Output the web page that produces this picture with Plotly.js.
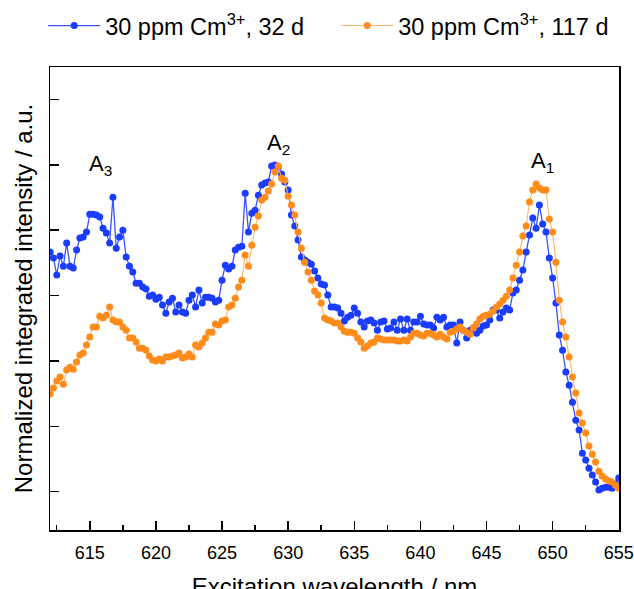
<!DOCTYPE html>
<html>
<head>
<meta charset="utf-8">
<script src="https://cdn.plot.ly/plotly-3.0.1.min.js"></script>
<style>html,body{margin:0;padding:0;background:#fff;overflow:hidden;}#chart{width:634px;height:600px;}</style>
</head>
<body>
<div id="chart"></div>
<script>
// Excitation wavelength (nm)
var wavelength = [
612,612.25,612.5,612.75,613,613.25,613.5,613.75,614,614.25,614.5,614.75,
615,615.25,615.5,615.75,616,616.25,616.5,616.75,617,617.25,617.5,617.75,
618,618.25,618.5,618.75,619,619.25,619.5,619.75,620,620.25,620.5,620.75,
621,621.25,621.5,621.75,622,622.25,622.5,622.75,623,623.25,623.5,623.75,
624,624.25,624.5,624.75,625,625.25,625.5,625.75,626,626.25,626.5,626.75,
627,627.25,627.5,627.75,628,628.25,628.5,628.75,629,629.25,629.5,629.75,
630,630.25,630.5,630.75,631,631.25,631.5,631.75,632,632.25,632.5,632.75,
633,633.25,633.5,633.75,634,634.25,634.5,634.75,635,635.25,635.5,635.75,
636,636.25,636.5,636.75,637,637.25,637.5,637.75,638,638.25,638.5,638.75,
639,639.25,639.5,639.75,640,640.25,640.5,640.75,641,641.25,641.5,641.75,
642,642.25,642.5,642.75,643,643.25,643.5,643.75,644,644.25,644.5,644.75,
645,645.25,645.5,645.75,646,646.25,646.5,646.75,647,647.25,647.5,647.75,
648,648.25,648.5,648.75,649,649.25,649.5,649.75,650,650.25,650.5,650.75,
651,651.25,651.5,651.75,652,652.25,652.5,652.75,653,653.25,653.5,653.75,
654,654.25,654.5,654.75,655
];

// 30 ppm Cm3+, 32 d (normalized)
var intensity32d = [
0.733,0.715,0.663,0.721,0.690,0.761,0.690,0.684,0.739,0.776,
0.779,0.794,0.849,0.849,0.846,0.840,0.806,0.791,0.761,0.901,
0.745,0.779,0.800,0.718,0.690,0.672,0.638,0.638,0.626,0.620,
0.598,0.602,0.589,0.595,0.571,0.546,0.580,0.592,0.550,0.571,
0.550,0.546,0.586,0.602,0.565,0.617,0.577,0.595,0.595,0.592,
0.580,0.586,0.647,0.693,0.681,0.690,0.739,0.748,0.751,0.913,
0.794,0.852,0.861,0.907,0.938,0.944,0.947,0.996,0.999,0.993,
0.972,0.947,0.923,0.846,0.813,0.770,0.718,0.709,0.702,0.696,
0.675,0.654,0.635,0.632,0.602,0.565,0.565,0.562,0.546,0.522,
0.534,0.540,0.562,0.546,0.519,0.504,0.522,0.525,0.516,0.494,
0.519,0.522,0.498,0.501,0.519,0.494,0.528,0.494,0.528,0.494,
0.519,0.519,0.537,0.513,0.510,0.510,0.501,0.534,0.525,0.534,
0.504,0.510,0.510,0.455,0.519,0.494,0.470,0.494,0.501,0.485,
0.494,0.507,0.510,0.525,0.556,0.556,0.531,0.550,0.562,0.556,
0.608,0.617,0.647,0.678,0.733,0.785,0.837,0.806,0.877,0.819,
0.794,0.715,0.654,0.577,0.479,0.433,0.366,0.326,0.274,0.219,
0.189,0.118,0.097,0.072,0.051,0.030,0.005,0.011,0.014,0.014,
0.011,0.024,0.042
];

// 30 ppm Cm3+, 117 d (normalized)
var intensity117d = [
0.299,0.317,0.339,0.351,0.329,0.372,0.381,0.375,0.397,0.418,
0.424,0.449,0.473,0.504,0.504,0.537,0.531,0.540,0.565,0.525,
0.519,0.519,0.504,0.494,0.470,0.470,0.458,0.439,0.439,0.433,
0.415,0.403,0.400,0.406,0.400,0.412,0.412,0.415,0.418,0.424,
0.409,0.412,0.421,0.412,0.449,0.443,0.455,0.470,0.488,0.488,
0.513,0.510,0.522,0.525,0.565,0.571,0.592,0.626,0.647,0.724,
0.690,0.754,0.809,0.843,0.892,0.901,0.920,0.941,0.978,0.996,
0.959,0.953,0.904,0.877,0.846,0.794,0.745,0.702,0.672,0.647,
0.614,0.602,0.577,0.531,0.525,0.522,0.516,0.516,0.504,0.491,
0.488,0.488,0.485,0.470,0.458,0.439,0.446,0.455,0.458,0.470,
0.467,0.464,0.464,0.464,0.464,0.461,0.461,0.464,0.461,0.473,
0.485,0.485,0.479,0.476,0.485,0.485,0.479,0.473,0.482,0.473,
0.467,0.488,0.491,0.498,0.504,0.494,0.488,0.482,0.501,0.513,
0.528,0.537,0.540,0.543,0.553,0.565,0.574,0.586,0.598,0.617,
0.654,0.693,0.733,0.782,0.813,0.886,0.923,0.941,0.929,0.923,
0.923,0.834,0.794,0.702,0.586,0.519,0.473,0.412,0.351,0.302,
0.241,0.210,0.180,0.140,0.115,0.091,0.063,0.048,0.039,0.033,
0.030,0.020,0.011
];

var seriesNames = ['30 ppm Cm<sup>3+</sup>, 32 d', '30 ppm Cm<sup>3+</sup>, 117 d'];
var xTickVals = [615, 620, 625, 630, 635, 640, 645, 650, 655];
var yTickVals = [0, 0.2, 0.4, 0.6, 0.8, 1.0, 1.2];
var peakLabels = ['A<sub>3</sub>', 'A<sub>2</sub>', 'A<sub>1</sub>'];
var peakLabelX = [615.8, 629.3, 649.2];
var peakLabelY = [1.0, 1.062, 1.008];

var FONT = 'Liberation Sans, Arial, sans-serif';

var traces = [
  {
    x: wavelength, y: intensity32d, name: seriesNames[0],
    type: 'scatter', mode: 'lines+markers',
    line: {color: '#3a55ff', width: 1.3},
    marker: {color: '#1a3cff', size: 7}
  },
  {
    x: wavelength, y: intensity117d, name: seriesNames[1],
    type: 'scatter', mode: 'lines+markers',
    line: {color: '#ffb46a', width: 1.1},
    marker: {color: '#ff8c1a', size: 7}
  }
];

var annotations = peakLabels.map(function (t, i) {
  return {
    x: peakLabelX[i], y: peakLabelY[i], xref: 'x', yref: 'y',
    text: t, showarrow: false, xanchor: 'center', yanchor: 'middle',
    font: {family: FONT, size: 22, color: '#000'}
  };
});

var layout = {
  width: 634, height: 600,
  margin: {l: 50, r: 15, t: 67, b: 70, pad: 0, autoexpand: false},
  paper_bgcolor: '#fff', plot_bgcolor: '#fff',
  font: {family: FONT, color: '#000'},
  showlegend: true,
  legend: {
    orientation: 'h', x: -0.012, xanchor: 'left', y: 1.089, yanchor: 'middle',
    font: {family: FONT, size: 23.5, color: '#000'},
    itemwidth: 52, entrywidth: 226, entrywidthmode: 'pixels',
    tracegroupgap: 0, bgcolor: 'rgba(0,0,0,0)'
  },
  xaxis: {
    range: [611.99, 655.02], autorange: false,
    tickmode: 'array', tickvals: xTickVals, ticktext: xTickVals.map(String),
    ticks: 'inside', ticklen: 9, tickwidth: 1.5, tickcolor: '#000',
    ticklabelstandoff: 6,
    minor: {tickmode: 'linear', tick0: 612.5, dtick: 2.5, ticks: 'inside', ticklen: 5, tickwidth: 1.5, tickcolor: '#000'},
    showline: true, linecolor: '#000', linewidth: 1.5, mirror: true,
    showgrid: false, zeroline: false,
    tickfont: {family: FONT, size: 18, color: '#000'},
    title: {text: 'Excitation wavelength / nm', font: {family: FONT, size: 24, color: '#000'}, standoff: 16}
  },
  yaxis: {
    range: [-0.117, 1.299], autorange: false,
    tickmode: 'array', tickvals: yTickVals, showticklabels: false,
    ticks: 'inside', ticklen: 9, tickwidth: 1.5, tickcolor: '#000',
    showline: true, linecolor: '#000', linewidth: 1.5, mirror: true,
    showgrid: false, zeroline: false,
    title: {text: 'Normalized integrated intensity / a.u.', font: {family: FONT, size: 24, color: '#000'}, standoff: 9}
  },
  annotations: annotations
};

Plotly.newPlot('chart', traces, layout, {displayModeBar: false, staticPlot: true});
</script>
</body>
</html>
